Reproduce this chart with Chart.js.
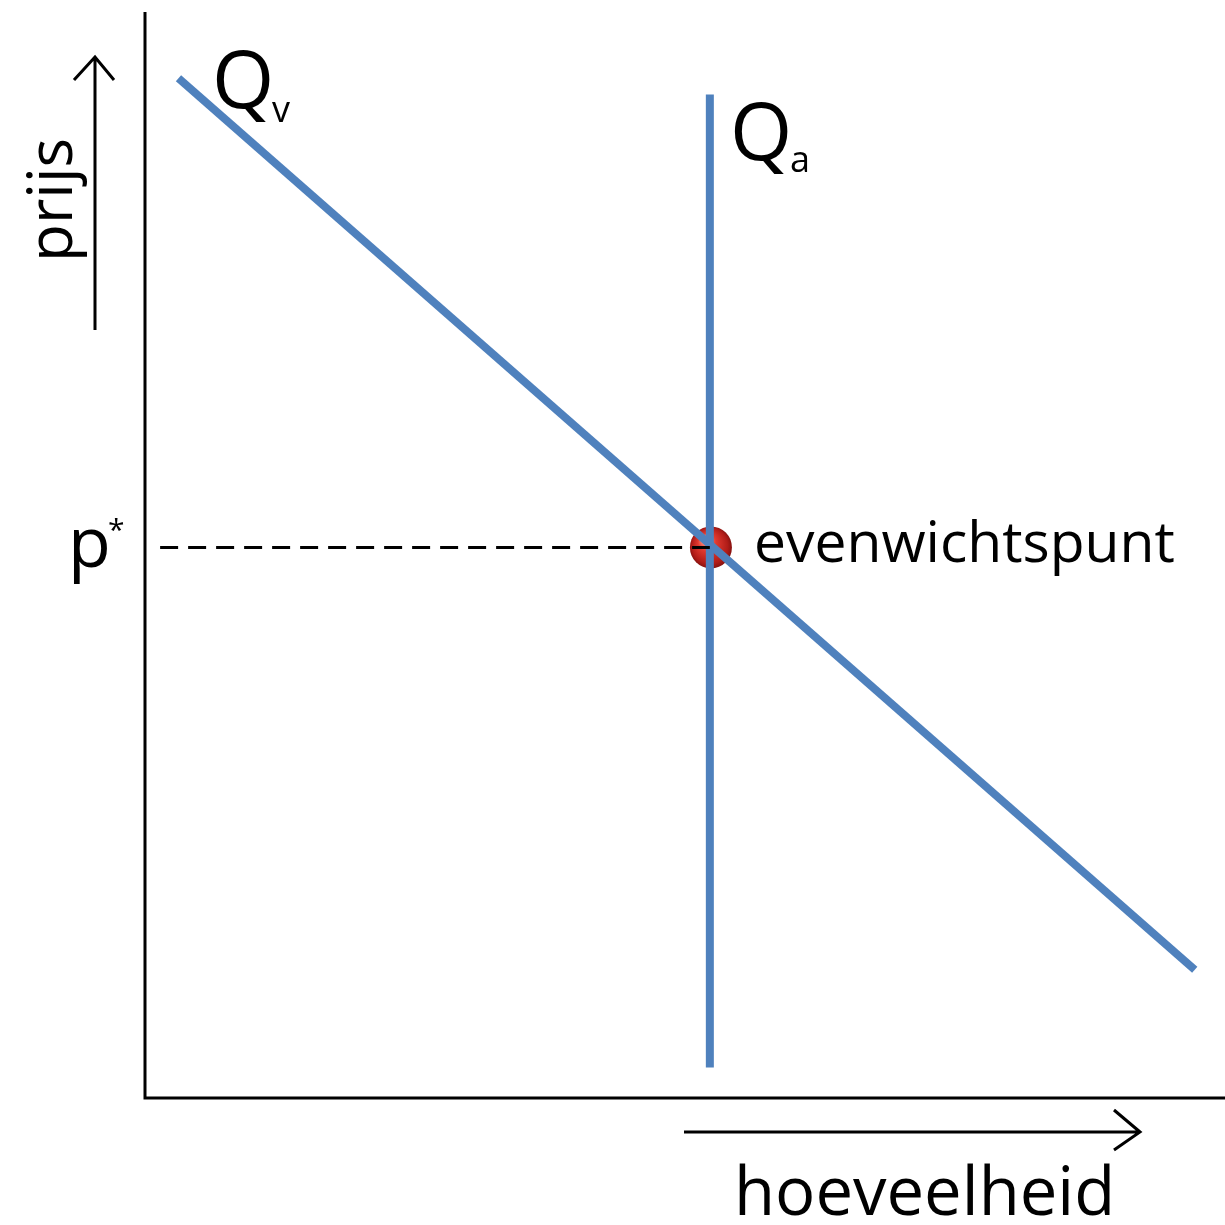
<!DOCTYPE html>
<html>
<head>
<meta charset="utf-8">
<script src="https://cdn.jsdelivr.net/npm/chart.js@4"></script>
<style>
  html, body { margin: 0; padding: 0; background: #fff; overflow: hidden; }
  canvas { display: block; }
</style>
</head>
<body>
<canvas id="myChart" width="1225" height="1225"></canvas>
<script>
// aanbod (vertical) and vraag (sloping) lines, quantity 0-100 / price 0-100
const vraagQ = [3.1, 97.2];
const vraagP = [93.9, 11.8];
const aanbodQ = [52.3, 52.3];
const aanbodP = [92.4, 2.8];
const evenwichtQ = 52.4;
const evenwichtP = 50.7;
const prijsStreepQ = [1.4, 52.3];

const blauw = '#4f81bd';

const pts = (xs, ys) => xs.map((x, i) => ({ x: x, y: ys[i] }));

// labels + axes + arrows
const tekstPlugin = {
  id: 'tekst',
  beforeDatasetsDraw(chart) {
    const c = chart.ctx, a = chart.chartArea;
    c.save();
    c.strokeStyle = '#000';
    c.lineWidth = 3;
    c.beginPath();
    c.moveTo(a.left, a.top);
    c.lineTo(a.left, a.bottom);
    c.lineTo(a.right, a.bottom);
    c.stroke();
    c.restore();
  },
  afterDraw(chart) {
    const c = chart.ctx;
    c.save();
    c.fillStyle = '#000';
    c.strokeStyle = '#000';
    c.textBaseline = 'alphabetic';

    // arrows
    c.lineWidth = 3;
    c.beginPath();
    c.moveTo(95, 330); c.lineTo(95, 57);
    c.moveTo(74, 80); c.lineTo(95, 57); c.lineTo(114, 80);
    c.moveTo(684, 1132); c.lineTo(1140, 1132);
    c.moveTo(1114, 1110); c.lineTo(1140, 1132); c.lineTo(1114, 1150);
    c.stroke();

    // Qv
    c.font = '80px "Open Sans"';
    c.fillText('Q', 212, 108);
    c.font = '36px "Open Sans"';
    c.fillText('v', 272, 122);
    // Qa
    c.font = '80px "Open Sans"';
    c.fillText('Q', 730, 160);
    c.font = '36px "Open Sans"';
    c.fillText('a', 790, 172);
    // p*
    c.font = '70px "Open Sans"';
    c.fillText('p', 68, 567);
    c.font = '30px "Open Sans"';
    c.fillText('*', 108, 540);

    // evenwichtspunt
    c.font = '57px "Open Sans"';
    c.fillText('evenwichtspunt', 754, 562);
    // hoeveelheid
    c.font = '67px "Open Sans"';
    c.fillText('hoeveelheid', 734, 1215);
    // prijs
    c.translate(72, 262);
    c.rotate(-Math.PI / 2);
    c.font = '62px "Open Sans"';
    c.fillText('prijs', 0, 0);
    c.restore();
  }
};

new Chart(document.getElementById('myChart'), {
  type: 'scatter',
  data: {
    datasets: [
      {
        label: 'p*',
        data: pts(prijsStreepQ, [evenwichtP, evenwichtP]),
        showLine: true,
        borderColor: '#000',
        borderWidth: 3,
        borderDash: [18, 10],
        pointRadius: 0
      },
      {
        label: 'Qv',
        data: pts(vraagQ, vraagP),
        showLine: true,
        borderColor: blauw,
        borderWidth: 8,
        pointRadius: 0
      },
      {
        label: 'Qa',
        data: pts(aanbodQ, aanbodP),
        showLine: true,
        borderColor: blauw,
        borderWidth: 8,
        pointRadius: 0
      },
      {
        label: 'evenwichtspunt',
        data: [{ x: evenwichtQ, y: evenwichtP }],
        pointRadius: 21,
        borderWidth: 0,
        backgroundColor: (ctx) => {
          const ch = ctx.chart;
          if (!ch.chartArea || !ctx.raw) return '#c0302a';
          const px = ch.scales.x.getPixelForValue(ctx.raw.x);
          const py = ch.scales.y.getPixelForValue(ctx.raw.y);
          const g = ch.ctx.createRadialGradient(px - 6, py - 8, 2, px, py, 22);
          g.addColorStop(0, '#ff9a8c');
          g.addColorStop(0.35, '#e0392f');
          g.addColorStop(0.8, '#b01c18');
          g.addColorStop(1, '#7d100e');
          return g;
        }
      }
    ]
  },
  options: {
    responsive: false,
    animation: false,
    layout: { autoPadding: false, padding: { left: 145, right: 0, top: 12, bottom: 127 } },
    plugins: { legend: { display: false }, tooltip: { enabled: false } },
    scales: {
      x: { type: 'linear', min: 0, max: 100, display: false },
      y: { type: 'linear', min: 0, max: 100, display: false }
    }
  },
  plugins: [tekstPlugin]
});
</script>
</body>
</html>
